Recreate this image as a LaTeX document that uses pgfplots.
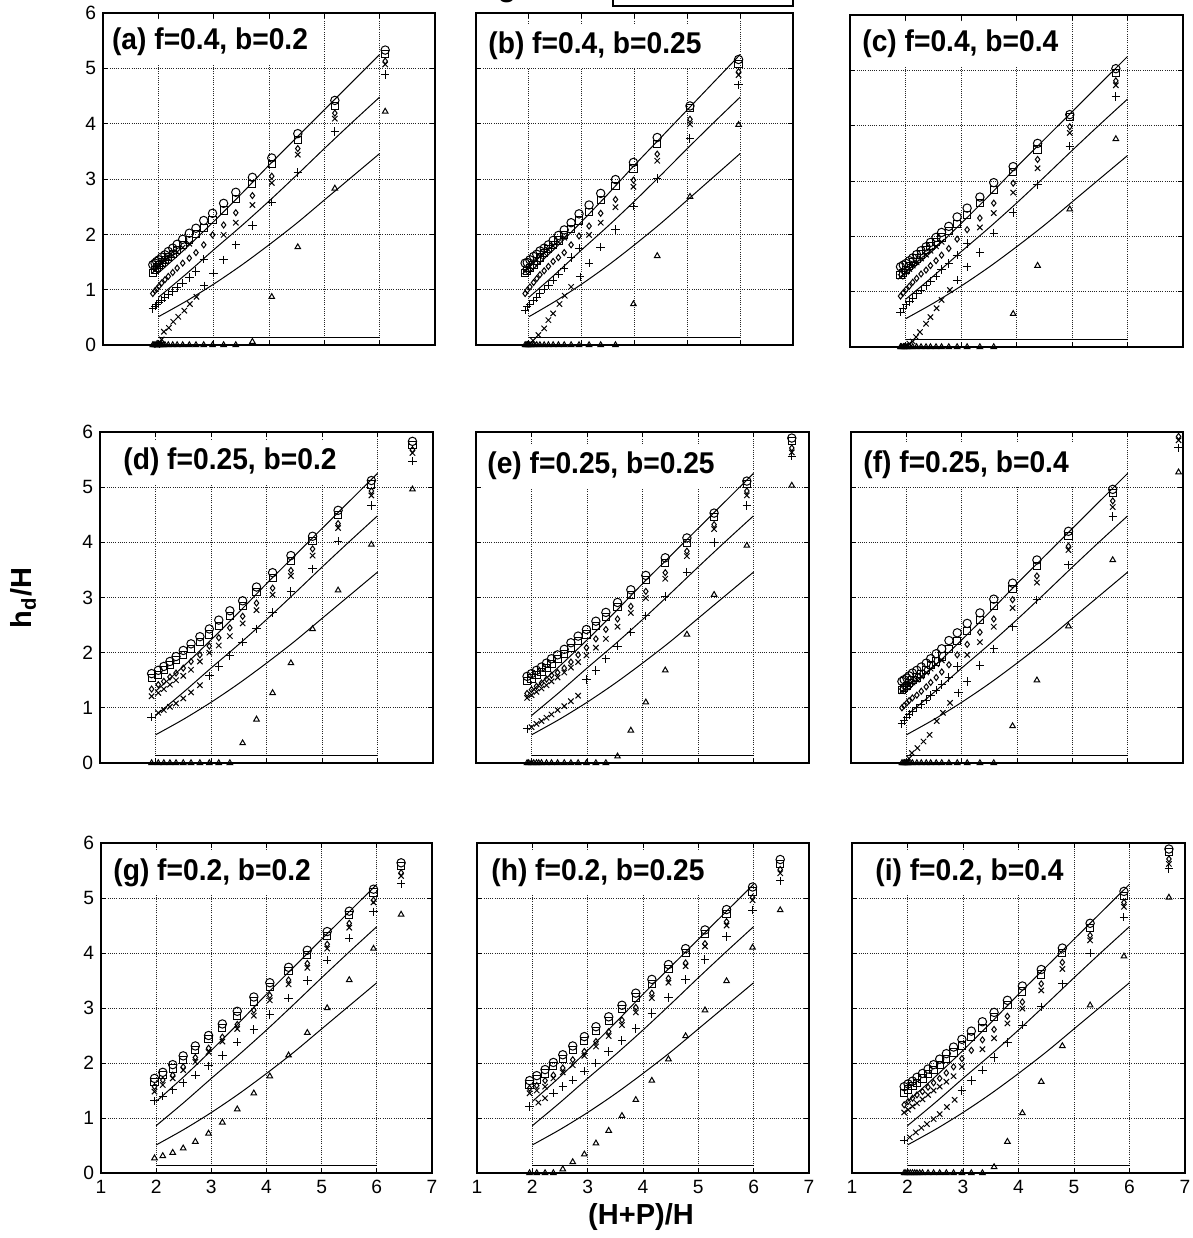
\documentclass[border=0pt]{standalone}
\usepackage{fontspec}
\setmainfont{Liberation Sans}
\usepackage{graphicx}
\usepackage{pgfplots}
\usepackage{pgfplotstable}
\pgfplotsset{compat=1.18}

\pgfplotsset{
  panel/.style={scale only axis, xmin=1, xmax=7, ymin=0, ymax=6,
    xtick={1,...,7}, ytick={0,...,6}, grid=major,
    major grid style={black!85, line width=0.35pt, dash pattern=on 0.5pt off 0.6pt},
    axis line style={line width=0.6pt}, tick style={black, line width=0.4pt},
    major tick length=2.5pt, tick align=inside, clip=false, anchor=south west,
    /pgf/number format/assume math mode=true,
    ticklabel style={font=\fontsize{9.6}{10}\selectfont},
    xticklabels={}, yticklabels={}},
  showx/.style={xticklabels={1,2,3,4,5,6,7}},
  showy/.style={yticklabels={0,1,2,3,4,5,6}},
  mk/.style={only marks, black, mark options={solid, line width=0.5pt, fill=none}},
  circ/.style={mk, mark=o, mark size=2.1pt},
  sq/.style={mk, mark=square, mark size=1.8pt},
  dia/.style={mk, mark=diamond, mark size=1.5pt},
  crs/.style={mk, mark=x, mark size=1.9pt},
  pls/.style={mk, mark=+, mark size=2.1pt},
  tri/.style={mk, mark=triangle, mark size=1.6pt},
  crv/.style={black, line width=0.5pt, no markers, smooth},
}
\tikzset{lab/.style={anchor=west, fill=white, inner xsep=2pt, inner ysep=4pt,
  font=\fontsize{15}{15}\selectfont\bfseries}}
\newcommand{\lbl}[1]{\scalebox{0.94}[1]{#1}}

\newcommand{\panelplots}[1]{%
  \addplot[circ] table[x=x,y=c]{#1};
  \addplot[sq] table[x=x,y=s]{#1};
  \addplot[dia] table[x=x,y=d]{#1};
  \addplot[crs] table[x=x,y=X]{#1};
  \addplot[pls] table[x=x,y=P]{#1};
  \addplot[tri] table[x=x,y=T]{#1};
}
\newcommand{\curves}{%
  \addplot[crv] coordinates {(2,1.30) (2.5,1.75) (3,2.23) (3.5,2.73) (4,3.25) (4.5,3.75) (5,4.25) (5.5,4.75) (6,5.25)};
  \addplot[crv] coordinates {(2,0.86) (2.5,1.28) (3,1.72) (3.5,2.15) (4,2.60) (4.5,3.07) (5,3.55) (5.5,4.02) (6,4.48)};
  \addplot[crv] coordinates {(2,0.51) (2.5,0.79) (3,1.10) (3.5,1.44) (4,1.81) (4.5,2.20) (5,2.62) (5.5,3.04) (6,3.46)};
  \addplot[black, line width=0.5pt, no markers] coordinates {(2,0.14) (6,0.14)};
}

\pgfplotstableread{
x c s d X P T
1.90 1.45 1.30 0.93 nan 0.66 0
1.94 1.48 1.36 0.98 1.35 0.70 0
1.97 1.51 1.40 1.01 1.39 0.73 0
2.01 1.54 1.44 1.06 1.42 0.77 0
2.06 1.59 1.49 1.12 1.47 0.81 0
2.12 1.63 1.54 1.18 1.52 0.86 0
2.18 1.69 1.59 1.24 1.57 0.91 0
2.26 1.75 1.65 1.31 1.62 0.97 0
2.34 1.82 1.72 1.39 1.68 1.04 0
2.44 1.91 1.80 1.48 1.76 1.12 0
2.56 2.02 1.90 1.57 1.83 1.22 0
2.68 2.11 2.00 1.67 nan 1.33 0
2.82 2.25 2.12 1.81 nan 1.55 0
2.98 2.38 2.26 1.99 nan nan 0
3.18 2.56 2.43 2.17 1.99 1.54 0
3.40 2.76 2.64 2.39 2.21 1.81 0
3.70 3.03 2.91 2.70 2.53 2.16 0.06
4.05 3.38 3.27 3.05 2.93 2.58 0.87
4.52 3.82 3.71 3.55 3.44 3.12 1.77
5.19 4.42 4.32 4.19 4.09 3.86 2.83
6.10 5.33 5.26 5.13 5.07 4.89 4.22
}\tA
\pgfplotstableread{
x c s d X P T
1.93 1.48 1.30 0.93 1.33 0.63 0
1.97 1.49 1.34 0.99 1.37 0.69 0
2.02 1.54 1.39 1.05 1.42 0.74 0
2.09 1.60 1.45 1.13 1.48 0.80 0
2.15 1.64 1.52 1.20 1.54 0.86 0
2.21 1.70 1.58 1.27 1.60 0.93 0
2.29 1.75 1.66 1.34 1.66 1.01 0
2.37 1.81 1.73 1.42 1.72 1.08 0
2.46 1.89 1.81 1.51 1.79 1.17 0
2.56 1.98 1.89 1.58 1.86 1.28 0
2.67 2.08 1.99 1.67 1.94 1.39 0
2.80 2.21 2.09 1.81 nan 1.58 0
2.95 2.37 2.25 1.97 nan 1.75 0
3.14 2.53 2.41 2.15 1.99 1.48 0
3.36 2.74 2.62 2.38 2.21 1.77 0
3.64 2.99 2.87 2.63 2.49 2.09 0
3.98 3.30 3.19 2.98 2.86 2.51 0.74
4.43 3.75 3.63 3.45 3.33 3.01 1.61
5.05 4.32 4.28 4.08 3.99 3.73 2.68
5.97 5.16 5.08 4.94 4.88 4.70 3.98
}\tB
\pgfplotstableread{
x c s d X P T
1.91 1.45 1.30 0.92 1.27 0.63 0
1.96 1.48 1.34 0.98 1.31 0.70 0
2.01 1.51 1.39 1.04 1.36 0.76 0
2.07 1.56 1.46 1.10 1.41 0.82 0
2.13 1.61 1.53 1.17 1.47 0.88 0
2.20 1.67 1.60 1.24 1.53 0.96 0
2.28 1.74 1.67 1.32 1.60 1.03 0
2.37 1.81 1.75 1.39 1.67 1.11 0
2.45 1.89 1.83 1.47 1.74 1.19 0
2.55 1.98 1.90 1.56 1.82 1.28 0
2.65 2.07 1.98 1.66 1.90 1.40 0
2.78 2.18 2.09 1.78 nan 1.51 0
2.93 2.35 2.22 1.95 nan 1.66 0
3.11 2.51 2.39 2.12 nan 1.45 0
3.34 2.71 2.60 2.33 2.16 1.71 0
3.59 2.97 2.84 2.60 2.42 2.06 0
3.94 3.26 3.16 2.96 2.79 2.43 0.60
4.38 3.68 3.57 3.39 3.23 2.94 1.47
4.96 4.20 4.16 3.98 3.87 3.63 2.49
5.79 5.03 4.95 4.81 4.73 4.53 3.76
}\tC
\pgfplotstableread{
x c s d X P T
1.93 1.62 1.54 1.34 1.21 0.83 0
2.05 1.68 1.60 1.42 1.27 nan 0
2.15 1.75 1.68 1.48 1.34 nan 0
2.26 1.84 1.77 1.56 1.42 nan 0
2.37 1.93 1.86 1.63 1.50 nan 0
2.50 2.04 1.96 1.72 1.58 nan 0
2.64 2.16 2.07 1.84 1.69 nan 0
2.80 2.29 2.19 1.96 1.84 nan 0
2.97 2.43 2.33 2.12 2.00 1.58 0
3.14 2.59 2.49 2.27 2.13 1.75 0
3.34 2.76 2.66 2.45 2.30 1.95 0
3.57 2.94 2.85 2.66 2.53 2.19 0.36
3.82 3.19 3.10 2.90 2.77 2.43 0.79
4.11 3.45 3.36 3.17 3.05 2.73 1.27
4.44 3.76 3.66 3.49 3.39 3.11 1.81
4.83 4.11 4.02 3.88 3.76 3.52 2.43
5.29 4.58 4.49 4.34 4.26 4.02 3.13
5.89 5.12 5.05 4.93 4.85 4.67 3.96
6.63 5.83 5.77 5.68 5.62 5.47 4.96
}\tD
\pgfplotstableread{
x c s d X P T
1.92 1.57 1.48 1.26 1.18 0.62 0
2.00 1.62 1.53 1.33 1.23 nan 0
2.09 1.68 1.59 1.39 1.29 nan 0
2.18 1.74 1.65 1.45 1.35 nan 0
2.27 1.81 1.72 1.52 1.41 nan 0
2.36 1.89 1.80 1.59 1.48 nan 0
2.47 1.96 1.89 1.64 1.55 nan 0
2.59 2.06 1.98 1.72 1.64 nan 0
2.71 2.18 2.09 1.83 1.73 nan 0
2.84 2.30 2.21 1.96 1.83 nan 0
2.99 2.42 2.33 2.09 1.95 1.51 0
3.16 2.57 2.48 2.25 2.09 1.68 0
3.34 2.73 2.65 2.42 2.25 1.89 0
3.55 2.91 2.83 2.61 2.47 2.12 0.12
3.79 3.14 3.05 2.84 2.72 2.37 0.59
4.06 3.40 3.31 3.11 2.99 2.67 1.10
4.41 3.72 3.63 3.45 3.34 3.02 1.68
4.80 4.08 3.99 3.84 3.75 3.46 2.33
5.29 4.53 4.46 4.32 4.24 4.00 3.05
5.88 5.11 5.06 4.93 4.85 4.67 3.94
6.69 5.89 5.83 5.71 5.63 5.56 5.03
}\tE
\pgfplotstableread{
x c s d X P T
1.92 1.48 1.33 1.00 1.30 0.71 0
1.96 1.51 1.36 1.04 1.33 0.77 0
2.01 1.54 1.40 1.09 1.37 0.83 0
2.05 1.58 1.45 1.13 1.41 0.88 0
2.11 1.63 1.50 1.18 1.46 0.93 0
2.19 1.68 1.55 1.23 1.51 1.00 0
2.27 1.74 1.61 1.30 1.57 1.06 0
2.36 1.81 1.69 1.38 1.64 1.14 0
2.44 1.89 1.77 1.46 1.71 1.22 0
2.54 1.98 1.84 1.55 1.79 1.32 0
2.64 2.07 1.93 1.65 1.86 1.42 0
2.77 2.22 2.06 1.78 nan 1.55 0
2.92 2.36 2.21 1.96 nan 1.75 0
3.10 2.53 2.39 2.15 1.96 1.48 0
3.33 2.72 2.59 2.37 2.19 1.77 0
3.58 2.97 2.85 2.61 2.47 2.07 0
3.92 3.26 3.16 2.96 2.81 2.47 0.67
4.36 3.68 3.57 3.39 3.27 2.96 1.50
4.93 4.20 4.11 3.93 3.86 3.59 2.48
5.73 4.96 4.89 4.75 4.64 4.47 3.68
6.92 nan nan 5.92 5.85 5.71 5.27
}\tF
\pgfplotstableread{
x c s d X P T
1.97 1.72 1.66 1.57 1.48 1.31 0.27
2.12 1.83 1.78 1.69 1.60 1.40 0.31
2.30 1.97 1.90 1.78 1.72 1.51 0.37
2.49 2.13 2.06 1.93 1.87 1.64 0.45
2.71 2.31 2.23 2.10 2.02 1.78 0.57
2.95 2.50 2.43 2.27 2.20 1.95 0.72
3.20 2.71 2.64 2.47 2.39 2.14 0.92
3.47 2.94 2.86 2.70 2.62 2.38 1.16
3.77 3.20 3.12 2.96 2.86 2.61 1.45
4.06 3.46 3.38 3.23 3.14 2.88 1.76
4.40 3.74 3.67 3.51 3.43 3.18 2.14
4.74 4.05 3.97 3.81 3.73 3.50 2.55
5.10 4.39 4.31 4.16 4.08 3.87 3.00
5.50 4.76 4.69 4.54 4.46 4.27 3.51
5.94 5.16 5.10 4.96 4.92 4.75 4.08
6.44 5.64 5.58 5.46 5.40 5.26 4.70
}\tG
\pgfplotstableread{
x c s d X P T
1.95 1.68 1.61 1.54 1.45 1.21 0
2.08 1.77 1.70 1.59 1.50 nan 0
2.23 1.88 1.81 1.68 1.57 nan 0
2.38 2.01 1.94 1.78 1.72 1.45 0
2.55 2.15 2.07 1.91 1.83 1.57 0.07
2.73 2.31 2.23 2.06 1.96 1.69 0.20
2.94 2.48 2.40 2.21 2.13 1.85 0.34
3.15 2.66 2.58 2.39 2.30 2.00 0.54
3.38 2.84 2.77 2.57 2.49 2.21 0.77
3.62 3.05 2.98 2.78 2.69 2.41 1.04
3.87 3.27 3.19 3.01 2.92 2.63 1.33
4.16 3.52 3.44 3.27 3.18 2.90 1.68
4.46 3.79 3.71 3.54 3.46 3.19 2.07
4.77 4.08 4.00 3.82 3.76 3.52 2.49
5.12 4.42 4.34 4.17 4.12 3.88 2.96
5.51 4.79 4.71 4.57 4.50 4.30 3.49
5.98 5.20 5.12 5.01 4.96 4.78 4.10
6.48 5.70 5.62 5.52 5.45 5.31 4.78
}\tH
\pgfplotstableread{
x c s d X P T
1.94 1.57 1.46 1.24 1.10 0.60 0
2.01 1.62 1.52 1.30 1.15 nan 0
2.09 1.67 1.58 1.36 1.21 nan 0
2.17 1.74 1.64 1.42 1.27 nan 0
2.27 1.81 1.72 1.48 1.34 nan 0
2.37 1.89 1.80 1.56 1.42 nan 0
2.47 1.97 1.87 1.64 1.50 nan 0
2.58 2.07 1.96 1.72 1.57 nan 0
2.70 2.17 2.07 1.82 1.66 nan 0
2.83 2.29 2.19 1.93 1.76 nan 0
2.98 2.43 2.32 2.08 1.93 1.50 0
3.15 2.58 2.48 2.23 nan 1.68 0
3.35 2.75 2.63 2.42 2.25 1.87 0
3.56 2.92 2.83 2.61 2.45 2.10 0.11
3.80 3.14 3.05 2.85 2.72 2.37 0.57
4.07 3.40 3.30 3.11 2.99 2.69 1.09
4.41 3.70 3.61 3.44 3.32 3.02 1.66
4.79 4.09 4.00 3.83 3.71 3.44 2.31
5.29 4.54 4.46 4.32 4.23 4.00 3.05
5.90 5.12 5.04 4.92 4.84 4.65 3.94
6.71 5.89 5.83 5.71 5.62 5.53 5.01
}\tI

\begin{document}
\begin{tikzpicture}
% ---------- row 1 ----------
\begin{axis}[panel, showy, at={(51.5pt,446.5pt)}, width=166pt, height=166pt]
\panelplots{\tA}
\addplot[crs] coordinates {(1.98,0) (2.02,0.04) (2.06,0.10) (2.10,0.24) (2.19,0.31) (2.27,0.42) (2.36,0.51) (2.47,0.62) (2.57,0.74) (2.69,0.87)};
\addplot[pls] coordinates {(2.83,1.07) (3.00,1.30)};
\addplot[tri] coordinates {(1.92,0) (1.96,0) (1.99,0) (2.04,0) (2.09,0)};
\curves
\node[lab, xshift=2.35pt, yshift=-14.5pt] at (rel axis cs:0,1) {\lbl{(a) f=0.4, b=0.2}};
\end{axis}
\begin{axis}[panel, at={(238pt,446.5pt)}, width=158.5pt, height=166pt]
\panelplots{\tB}
\addplot[crs] coordinates {(2.02,0.02) (2.08,0.08) (2.18,0.18) (2.29,0.30) (2.37,0.45) (2.46,0.57) (2.58,0.74) (2.68,0.89) (2.80,1.05)};
\addplot[pls] coordinates {(2.97,1.23)};
\addplot[tri] coordinates {(1.95,0) (2.00,0) (2.05,0)};
\curves
\node[lab, xshift=4pt, yshift=-16.5pt] at (rel axis cs:0,1) {\lbl{(b) f=0.4, b=0.25}};
\end{axis}
\begin{axis}[panel, at={(425pt,445.5pt)}, width=166.5pt, height=166pt]
\panelplots{\tC}
\addplot[crs] coordinates {(2.01,0.02) (2.07,0.06) (2.13,0.10) (2.19,0.18) (2.26,0.27) (2.37,0.42) (2.45,0.54) (2.56,0.70) (2.65,0.85) (2.80,1.03)};
\addplot[pls] coordinates {(2.93,1.21) (3.11,1.87)};
\addplot[tri] coordinates {(1.93,0) (1.98,0) (2.04,0)};
\curves
\node[lab, xshift=4pt, yshift=-14.5pt] at (rel axis cs:0,1) {\lbl{(c) f=0.4, b=0.4}};
\end{axis}
% ---------- row 2 ----------
\begin{axis}[panel, showy, at={(50pt,237.5pt)}, width=166.5pt, height=165.5pt]
\panelplots{\tD}
\addplot[crs] coordinates {(2.05,0.91) (2.15,0.96) (2.26,1.02) (2.37,1.08) (2.50,1.17) (2.64,1.28) (2.80,1.41)};
\curves
\node[lab, xshift=9.5pt, yshift=-15pt] at (rel axis cs:0,1) {\lbl{(d) f=0.25, b=0.2}};
\end{axis}
\begin{axis}[panel, at={(238pt,237.5pt)}, width=166.5pt, height=165.5pt]
\panelplots{\tE}
\addplot[crs] coordinates {(2.00,0.65) (2.09,0.71) (2.18,0.76) (2.27,0.82) (2.36,0.88) (2.47,0.96) (2.59,1.03) (2.71,1.12) (2.84,1.22)};
\addplot[tri] coordinates {(1.95,0) (2.04,0) (2.13,0)};
\curves
\node[lab, xshift=3.5pt, yshift=-17pt] at (rel axis cs:0,1) {\lbl{(e) f=0.25, b=0.25}};
\end{axis}
\begin{axis}[panel, at={(425.5pt,237.5pt)}, width=166pt, height=165.5pt]
\panelplots{\tF}
\addplot[crs] coordinates {(2.01,0.02) (2.05,0.08) (2.10,0.18) (2.20,0.27) (2.31,0.39) (2.42,0.51) (2.55,0.76) (2.66,0.91) (2.79,1.09)};
\addplot[pls] coordinates {(2.94,1.27)};
\addplot[tri] coordinates {(1.94,0) (1.98,0) (2.03,0)};
\curves
\node[lab, xshift=4pt, yshift=-16.5pt] at (rel axis cs:0,1) {\lbl{(f) f=0.25, b=0.4}};
\end{axis}
% ---------- row 3 ----------
\begin{axis}[panel, showx, showy, at={(50.5pt,32.5pt)}, width=165.5pt, height=165pt]
\panelplots{\tG}
\curves
\node[lab, xshift=4pt, yshift=-15pt] at (rel axis cs:0,1) {\lbl{(g) f=0.2, b=0.2}};
\end{axis}
\begin{axis}[panel, showx, at={(238.5pt,32.5pt)}, width=166pt, height=165pt]
\panelplots{\tH}
\addplot[crs] coordinates {(2.11,1.28) (2.23,1.36)};
\curves
\node[lab, xshift=5pt, yshift=-15pt] at (rel axis cs:0,1) {\lbl{(h) f=0.2, b=0.25}};
\end{axis}
\begin{axis}[panel, showx, at={(426pt,32.5pt)}, width=166.5pt, height=165pt]
\panelplots{\tI}
\addplot[crs] coordinates {(2.04,0.65) (2.15,0.74) (2.25,0.82) (2.35,0.89) (2.47,0.98) (2.58,1.07) (2.71,1.20) (2.85,1.33)};
\addplot[tri] coordinates {(1.97,0) (2.05,0) (2.13,0) (2.22,0)};
\curves
\node[lab, xshift=9.5pt, yshift=-15pt] at (rel axis cs:0,1) {\lbl{(i) f=0.2, b=0.4}};
\end{axis}
% ---------- labels ----------
\node[rotate=90, font=\fontsize{14.5}{15}\selectfont\bfseries] at (11.5pt,320pt) {h\textsubscript{d}/H};
\node[font=\fontsize{14.5}{15}\selectfont\bfseries] at (320.5pt,10.5pt) {(H+P)/H};
\node[anchor=base, font=\fontsize{15}{15}\selectfont\bfseries] at (253.5pt,620.5pt) {g};
\draw[line width=1pt] (306.5pt,615.75pt) rectangle (396.5pt,640pt);
\pgfresetboundingbox
\path[use as bounding box] (0,0) rectangle (596.5pt,619pt);
\end{tikzpicture}
\end{document}
